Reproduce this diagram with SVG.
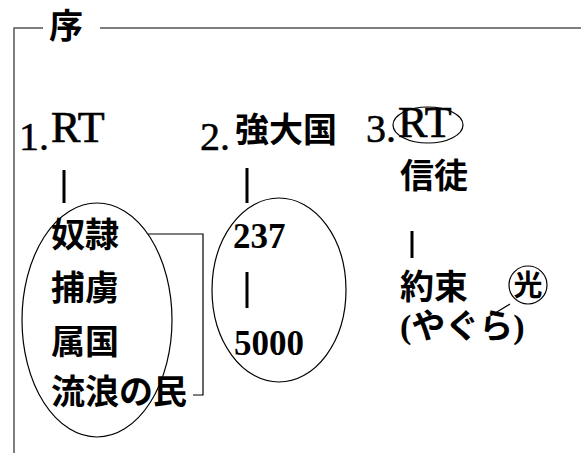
<svg xmlns="http://www.w3.org/2000/svg" width="581" height="453" viewBox="0 0 581 453">
<style>
text{font-family:"Liberation Serif","Noto Sans CJK JP",serif;fill:#000}
.num{font-size:40px;stroke:#000;stroke-width:0.5}
.rt{font-size:44px;stroke:#000;stroke-width:0.7}
.cj{font-size:34px;font-weight:bold}
.bn{font-size:35px;font-weight:bold}
.frame{stroke:#555;stroke-width:1.5;fill:none}
.bar{stroke:#000;stroke-width:3}
.oval{fill:none;stroke:#000;stroke-width:1.2}
.thin{fill:none;stroke:#000;stroke-width:1.2}
</style>
<rect width="581" height="453" fill="#fff"/>
<g id="frame">
<path class="frame" d="M14,453 V28 H43 M100,28 H581"/>
<text x="49" y="38" class="cj">序</text>
</g>
<g id="connectors">
<line class="bar" x1="64" y1="170" x2="64" y2="203"/>
<line class="bar" x1="247" y1="168" x2="247" y2="203"/>
<line class="bar" x1="247" y1="272" x2="247" y2="308"/>
<line class="bar" x1="412" y1="231" x2="412" y2="258"/>
<path class="thin" d="M148,234 H203 V395 H193"/>
<line class="thin" x1="487" y1="318" x2="510" y2="304"/>
</g>
<g id="n1">
<text x="19" y="150" class="num">1.</text>
<text x="51" y="142" class="rt">RT</text>
</g>
<g id="n1-list">
<ellipse class="oval" cx="97" cy="320" rx="75" ry="117"/>
<text x="51" y="247" class="cj">奴隷</text>
<text x="51" y="300" class="cj">捕虜</text>
<text x="51" y="354" class="cj">属国</text>
<text x="51" y="404" class="cj">流浪の民</text>
</g>
<g id="n2">
<text x="200" y="150" class="num">2.</text>
<text x="235" y="142" class="cj">強大国</text>
</g>
<g id="n2-list">
<ellipse class="oval" cx="279" cy="290" rx="67" ry="92"/>
<text x="233" y="248" class="bn">237</text>
<text x="234" y="355" class="bn">5000</text>
</g>
<g id="n3">
<text x="366" y="142" class="num">3.</text>
<ellipse class="oval" cx="428" cy="125" rx="35" ry="18"/>
<text x="398" y="137" class="rt">RT</text>
</g>
<g id="n3-list">
<text x="400" y="188" class="cj">信徒</text>
<text x="400" y="299" class="cj">約束</text>
<text x="400" y="338" class="cj">(やぐら)</text>
</g>
<g id="hikari">
<circle class="oval" cx="528" cy="285" r="19"/>
<text x="528" y="296" class="cj" text-anchor="middle" style="font-size:29px">光</text>
</g>
</svg>
